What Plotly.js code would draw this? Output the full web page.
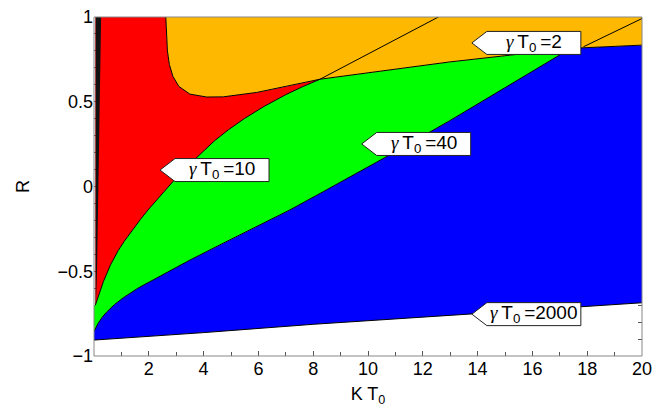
<!DOCTYPE html>
<html>
<head>
<meta charset="utf-8">
<script src="https://cdn.plot.ly/plotly-3.0.1.min.js"></script>
</head>
<body style="margin:0;background:#fff">
<div id="chart" style="width:667px;height:407px"></div>
<script>
// ---- data (K T0 on x, R on y) ----
const xMin = 0, xMax = 20, yMin = -1, yMax = 1;

// γT0 = 2000 boundary (bottom of blue)
const bottomX = [0, 4, 8, 12, 16, 20];
const bottomY = [-0.906, -0.862, -0.813, -0.772, -0.730, -0.686];

// γT0 = 40 boundary (blue / green)
const bgX = [0, 0.15, 0.3, 0.46, 0.75, 1.07, 1.6, 2.29, 3.5, 4.72, 5.94, 7.15, 8.37, 9.59, 11, 13, 15, 17.4];
const bgY = [-0.855, -0.807, -0.771, -0.741, -0.696, -0.656, -0.60, -0.538, -0.434, -0.334, -0.236, -0.138, -0.03, 0.078, 0.205, 0.39, 0.585, 0.815];

// γT0 = 10 boundary (red / green)
const rgX = [0.05, 0.2, 0.34, 0.6, 0.89, 1.1, 1.4, 1.7, 2.0, 2.4, 2.89, 3.4, 3.9, 4.4, 4.9, 5.5, 6.2, 7.0, 7.6, 8.25];
const rgY = [-0.70, -0.625, -0.562, -0.463, -0.376, -0.324, -0.256, -0.193, -0.133, -0.057, 0.031, 0.118, 0.197, 0.27, 0.334, 0.402, 0.472, 0.542, 0.588, 0.633];

// red / orange boundary
const roX = [2.62, 2.64, 2.68, 2.75, 2.88, 3.1, 3.5, 4.11, 4.72, 5.94, 7.15, 8.25];
const roY = [1.0, 0.9, 0.8, 0.72, 0.65, 0.59, 0.545, 0.528, 0.529, 0.555, 0.595, 0.633];

// γT0 = 2 boundary (orange above green / blue)
const upX = [8.25, 12.99, 17.4, 20];
const upY = [0.633, 0.735, 0.815, 0.834];

// extra contour segments inside the orange region
const l1X = [8.25, 12.57];
const l1Y = [0.633, 1.0];
const l2X = [17.86, 20];
const l2Y = [0.824, 0.991];

// dark strip along K T0 ≈ 0
const stripY = [1, 0.6, 0.2, -0.2, -0.5, -0.7];
const stripLeftX = [0.06, 0.06, 0.06, 0.06, 0.06, 0.06];
const stripRightX = [0.26, 0.21, 0.17, 0.14, 0.11, 0.07];

// contour labels
const labelText = ['10', '40', '2', '2000'];
const labelX = [2.41, 9.77, 13.79, 13.79];
const labelY = [0.097, 0.251, 0.847, -0.753];

const xTicks = [2, 4, 6, 8, 10, 12, 14, 16, 18, 20];
const yTicks = [-1, -0.5, 0, 0.5, 1];

const cRed = '#FF0000', cOrange = '#FFB800', cGreen = '#00FF00', cBlue = '#0000FF';

// ---- build polygons ----
const rev = a => a.slice().reverse();
function poly(x, y, color) {
  return {x: x, y: y, type: 'scatter', mode: 'lines', fill: 'toself', fillcolor: color,
          line: {width: 0, color: color}, hoverinfo: 'skip'};
}
function edge(x, y, w) {
  return {x: x, y: y, type: 'scatter', mode: 'lines', line: {width: w || 1, color: '#000'}, hoverinfo: 'skip'};
}

const blueX = bottomX.concat(rev(upX.slice(2)), rev(bgX));
const blueY = bottomY.concat(rev(upY.slice(2)), rev(bgY));
const greenX = bgX.concat(rev(upX.slice(0, 3)), rev(rgX), [xMin]);
const greenY = bgY.concat(rev(upY.slice(0, 3)), rev(rgY), [rgY[0]]);
const redX = rgX.concat(rev(roX), [rgX[0]]);
const redY = rgY.concat(rev(roY), [yMax]);
const orangeX = roX.concat(upX, [xMax]);
const orangeY = roY.concat(upY, [yMax]);
const stripX = stripLeftX.concat(rev(stripRightX));
const stripYY = stripY.concat(rev(stripY));

const traces = [
  poly(blueX, blueY, cBlue),
  poly(greenX, greenY, cGreen),
  poly(redX, redY, cRed),
  poly(orangeX, orangeY, cOrange),
  poly(stripX, stripYY, '#111'),
  edge(bottomX, bottomY),
  edge(bgX, bgY),
  edge(rgX, rgY),
  edge(roX, roY),
  edge(upX, upY),
  edge(l1X, l1Y),
  edge(l2X, l2Y)
];

// ---- labels (pentagon boxes) ----
const shapes = [];
const annotations = [];
const thin = '\u2009';
for (let i = 0; i < labelText.length; i++) {
  shapes.push({
    type: 'path', xref: 'x', yref: 'y',
    xsizemode: 'pixel', ysizemode: 'pixel',
    xanchor: labelX[i], yanchor: labelY[i],
    path: 'M0,0 L15,11.5 L109,11.5 L109,-11.5 L15,-11.5 Z',
    fillcolor: '#fff', line: {color: '#222', width: 1}, layer: 'above'
  });
  annotations.push({
    x: labelX[i], y: labelY[i], xref: 'x', yref: 'y',
    xanchor: 'center', yanchor: 'middle', xshift: 62, yshift: 0,
    showarrow: false,
    text: '<span style="font-family:\'Liberation Serif\';font-style:italic">γ</span>' + thin + 'T<sub>0</sub>' + thin + '=' + labelText[i],
    font: {family: 'Liberation Sans, Arial, sans-serif', size: 19, color: '#000'}
  });
}
// frame
shapes.push({type: 'rect', xref: 'paper', yref: 'paper', x0: 0, x1: 1, y0: 0, y1: 1,
             line: {color: '#888', width: 1}, fillcolor: 'rgba(0,0,0,0)', layer: 'above'});

const axisCommon = {
  showgrid: false, zeroline: false, showline: false,
  ticks: 'inside', ticklen: 5, tickcolor: '#555', tickwidth: 1,
  mirror: 'ticks', layer: 'below traces',
  tickfont: {family: 'Liberation Sans, Arial, sans-serif', size: 18, color: '#000'}
};

const layout = {
  width: 667, height: 407,
  margin: {l: 94, r: 25, t: 17, b: 51},
  paper_bgcolor: '#fff', plot_bgcolor: '#fff',
  showlegend: false,
  font: {family: 'Liberation Sans, Arial, sans-serif', size: 18, color: '#000'},
  xaxis: Object.assign({}, axisCommon, {
    range: [xMin, xMax], tickmode: 'array', tickvals: xTicks,
    minor: {tickmode: 'linear', tick0: 0, dtick: 1, ticks: 'inside', ticklen: 4, tickcolor: '#555'},
    title: {text: 'K T<sub>0</sub>', standoff: 13, font: {size: 18}}
  }),
  yaxis: Object.assign({}, axisCommon, {
    range: [yMin, yMax], tickmode: 'array', tickvals: yTicks,
    minor: {tickmode: 'linear', tick0: 0, dtick: 0.1, ticks: 'inside', ticklen: 4, tickcolor: '#555'},
    title: {text: 'R', standoff: 23, font: {size: 18}}
  }),
  shapes: shapes,
  annotations: annotations
};

Plotly.newPlot('chart', traces, layout, {displayModeBar: false, staticPlot: true});
</script>
</body>
</html>
